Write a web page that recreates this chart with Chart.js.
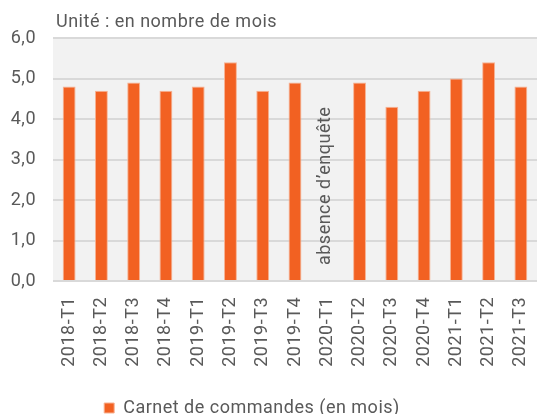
<!DOCTYPE html>
<html>
<head>
<meta charset="utf-8">
<script src="https://cdn.jsdelivr.net/npm/chart.js@4"></script>
<style>
  html, body { margin: 0; padding: 0; background: #ffffff; }
  #wrap { width: 537px; height: 414px; }
</style>
</head>
<body>
<div id="wrap"><canvas id="chart"></canvas></div>
<script>
// Données
const quarters = ['2018-T1', '2018-T2', '2018-T3', '2018-T4', '2019-T1', '2019-T2', '2019-T3', '2019-T4',
                  '2020-T1', '2020-T2', '2020-T3', '2020-T4', '2021-T1', '2021-T2', '2021-T3'];
const carnet = [4.8, 4.7, 4.9, 4.7, 4.8, 5.4, 4.7, 4.9, null, 4.9, 4.3, 4.7, 5.0, 5.4, 4.8];
const seriesName = 'Carnet de commandes (en mois)';
const unitText = 'Unité : en nombre de mois';
const noteText = 'absence d’enquête';
const noteQuarter = '2020-T1';

const textColor = '#595959';
const barColor = '#F26122';
const spacing = '0.5px';

// fond gris de la zone de tracé + titre + note verticale
const decorPlugin = {
    id: 'decor',
    beforeLayout(chart) {
        chart.ctx.letterSpacing = spacing;
    },
    afterLayout(chart) {
        // légende un peu décalée vers la gauche comme sur l'original
        chart.legend.left -= 18;
        chart.legend.right -= 18;
    },
    beforeDraw(chart) {
        const a = chart.chartArea;
        const ctx = chart.ctx;
        ctx.letterSpacing = spacing;
        ctx.save();
        ctx.fillStyle = '#f2f2f2';
        ctx.fillRect(a.left, a.top, a.right - a.left, a.bottom - a.top);
        ctx.restore();
    },
    afterDraw(chart) {
        const a = chart.chartArea;
        const ctx = chart.ctx;
        const x = chart.scales.x.getPixelForValue(quarters.indexOf(noteQuarter));
        const y = chart.scales.y;
        ctx.save();
        ctx.fillStyle = textColor;
        ctx.font = "18px Roboto";
        ctx.textAlign = 'left';
        ctx.textBaseline = 'alphabetic';
        ctx.fillText(unitText, a.left + 3, 27);

        ctx.translate(x - 2, (y.getPixelForValue(0.4) + y.getPixelForValue(4.3)) / 2);
        ctx.rotate(-Math.PI / 2);
        ctx.textAlign = 'center';
        ctx.textBaseline = 'middle';
        ctx.fillText(noteText, 0, 0);
        ctx.restore();
    }
};

new Chart(document.getElementById('chart'), {
    type: 'bar',
    data: {
        labels: quarters,
        datasets: [{
            label: seriesName,
            data: carnet,
            backgroundColor: barColor,
            borderColor: '#f7b394',
            borderWidth: 1,
            categoryPercentage: 0.4,
            barPercentage: 1
        }]
    },
    options: {
        responsive: true,
        maintainAspectRatio: false,
        animation: false,
        layout: { padding: { top: 38, left: 0, right: -3, bottom: -13 } },
        plugins: {
            legend: {
                position: 'bottom',
                labels: {
                    color: textColor,
                    font: { family: 'Roboto', size: 18 },
                    boxWidth: 10,
                    boxHeight: 10,
                    padding: 4
                }
            },
            tooltip: { enabled: false }
        },
        scales: {
            x: {
                grid: { display: false },
                border: { display: false },
                ticks: {
                    color: textColor,
                    font: { family: 'Roboto', size: 18 },
                    minRotation: 90,
                    maxRotation: 90,
                    padding: 8
                },
                afterFit(scale) {
                    scale.height = 114;
                    scale.paddingLeft = 0;
                    scale.paddingRight = 0;
                }
            },
            y: {
                min: 0,
                max: 6,
                grid: { color: '#d9d9d9', lineWidth: 2, drawTicks: false },
                border: { display: false },
                ticks: {
                    stepSize: 1,
                    color: textColor,
                    font: { family: 'Roboto', size: 18 },
                    padding: 17,
                    callback: v => v.toFixed(1).replace('.', ',')
                },
                afterFit(scale) { scale.width = 53; }
            }
        }
    },
    plugins: [decorPlugin]
});
</script>
</body>
</html>
